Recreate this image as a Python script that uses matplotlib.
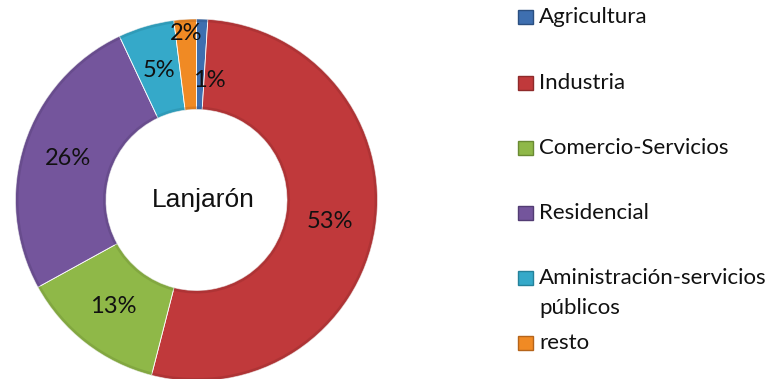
import numpy as np
import matplotlib.pyplot as plt
from matplotlib.patches import Rectangle, Wedge

plt.rcParams['font.family'] = ['Lato', 'DejaVu Sans']

# consumption share by sector, Lanjarón
sectors = ['Agricultura', 'Industria', 'Comercio-Servicios', 'Residencial',
           'Aministración-servicios\npúblicos', 'resto']
shares = [1, 53, 13, 26, 5, 2]
pct_labels = ['1%', '53%', '13%', '26%', '5%', '2%']
colors = ['#3e6fb0', '#c0393b', '#8fb848', '#74559c', '#35a9c9', '#f08a24']
edge_dark = ['#2b4f80', '#8e2a2a', '#6a8a33', '#523c73', '#25819a', '#b5641a']

W, H = 771, 379
fig = plt.figure(figsize=(W / 100, H / 100), dpi=100)
ax = fig.add_axes([0, 0, 1, 1])

cx, cy, R = 196.5, 179, 181
ring = 0.5

wedges, _ = ax.pie(shares, colors=colors, startangle=90, counterclock=False,
                   center=(cx, cy), radius=R, frame=True,
                   wedgeprops=dict(width=R * ring, edgecolor='white', linewidth=0.6))
ax.set_xlim(0, W)
ax.set_ylim(0, H)
ax.set_aspect('equal')
ax.axis('off')

# soft bevel: darker rim on outer and inner edges of each slice
for w, ec in zip(wedges, edge_dark):
    for r0, wd in ((R, 3), (R * ring + 3, 3)):
        ax.add_patch(Wedge((cx, cy), r0, w.theta1, w.theta2, width=wd,
                           facecolor=ec, edgecolor='none', alpha=0.35))

# value labels at mid-ring, the two tiny slices pushed in / out
label_r = {0: 120, 5: 167}
ang = 90.0
for i, s in enumerate(shares):
    mid = np.deg2rad(ang - s / 100 * 360 / 2)
    ang -= s / 100 * 360
    r = label_r.get(i, 135)
    dx = 9 if i == 0 else 0
    ax.text(cx + r * np.cos(mid) + dx, cy + r * np.sin(mid), pct_labels[i],
            ha='center', va='center', fontsize=17, color='#111111')

ax.text(cx + 7, cy, 'Lanjarón', ha='center', va='center', fontsize=19,
        family=['Liberation Sans', 'DejaVu Sans'], color='#111111')

# legend, drawn by hand to keep the wide spacing
leg_y = [H - y for y in [17, 83, 148, 213, 278, 343]]
for lab, c, ec, y in zip(sectors, colors, edge_dark, leg_y):
    ax.add_patch(Rectangle((518, y - 7), 15, 14, facecolor=c, edgecolor=ec, lw=1))
    first, *rest = lab.split('\n')
    ax.text(539, y, first, ha='left', va='center', fontsize=16, color='#111111')
    for k, line in enumerate(rest, 1):
        ax.text(539, y - 30 * k, line, ha='left', va='center', fontsize=16,
                color='#111111')

fig.savefig('out.png', dpi=100)
